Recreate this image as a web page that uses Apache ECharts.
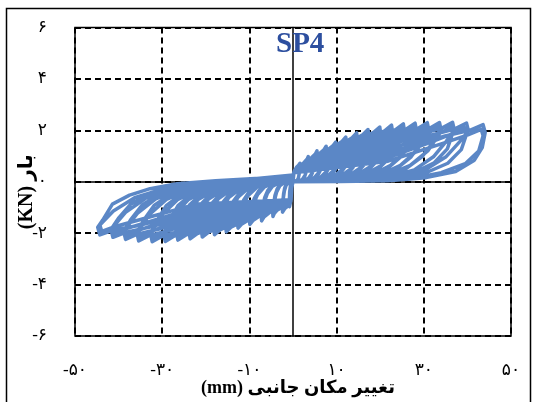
<!DOCTYPE html>
<html>
<head>
<meta charset="utf-8">
<script src="https://cdn.jsdelivr.net/npm/echarts@6/dist/echarts.min.js"></script>
<style>
  html, body { margin: 0; padding: 0; background: #fff; }
  #chart { width: 534px; height: 402px; }
</style>
</head>
<body>
<div id="chart"></div>
<script>
// Cyclic load–displacement record of specimen SP4, [displacement mm, load kN].
// One array per amplitude step: first cycle (push, pull) then its repeat cycle.
const step01 = [[0.25,0.4],[0.8,0.56],[1.28,0.64],[1.49,0.67],[1.6,0.72],[1.65,0.58],[1.54,0.49],[1.41,0.3],[1.22,0.14],[0.93,0.05],[0.56,0.02],[0,0],
  [-0.3,-0.25],[-0.45,-0.7],[-0.8,-0.97],[-0.82,-0.7],[-0.77,-0.4],[-0.5,-0.05],[-0.15,0.15],[0,0.26]];
const step02 = [[0.25,0.4],[1.75,0.6],[2.8,0.8],[3.26,0.89],[3.5,0.98],[3.59,0.78],[3.36,0.67],[3.08,0.41],[2.66,0.2],[2.03,0.07],[1.23,0.02],[0,0],
  [-0.3,-0.25],[-0.5,-0.75],[-1.2,-0.95],[-1.92,-1.05],[-2.23,-1.1],[-2.4,-1.18],[-2.33,-0.78],[-2.16,-0.47],[-1.92,-0.26],[-1.58,-0.09],[-1.08,0.02],[-0.48,0.12],[0,0.26],
  [0.25,0.35],[1.75,0.45],[2.73,0.65],[3.22,0.8],[3.47,0.9],[3.5,0.68],[3.22,0.51],[2.8,0.27],[2.24,0.11],[1.58,0.03],[0,0],
  [-0.3,-0.25],[-0.5,-0.7],[-1.2,-0.85],[-1.87,-0.95],[-2.21,-1.0],[-2.38,-1.1],[-2.4,-0.85],[-2.23,-0.65],[-1.97,-0.35],[-1.58,-0.14],[-1.1,-0.04],[-0.48,0.12],[0,0.26]];
const step03 = [[0.25,0.4],[2.75,0.68],[4.4,0.96],[5.12,1.08],[5.5,1.2],[5.6,0.9],[5.28,0.82],[4.84,0.5],[4.18,0.24],[3.19,0.08],[1.93,0.02],[0,0],
  [-0.3,-0.25],[-0.5,-0.75],[-2.3,-0.98],[-3.68,-1.11],[-4.28,-1.23],[-4.6,-1.35],[-4.7,-1.05],[-4.46,-0.89],[-4.14,-0.54],[-3.68,-0.3],[-3.04,-0.11],[-2.07,0.02],[-0.92,0.12],[0,0.26],
  [0.25,0.35],[2.75,0.5],[4.29,0.79],[5.06,0.98],[5.45,1.1],[5.5,0.85],[5.06,0.62],[4.4,0.34],[3.52,0.13],[2.48,0.04],[0,0],
  [-0.3,-0.25],[-0.5,-0.7],[-2.3,-0.85],[-3.59,-0.95],[-4.23,-1.13],[-4.55,-1.26],[-4.6,-1.01],[-4.28,-0.74],[-3.77,-0.41],[-3.04,-0.16],[-2.12,-0.04],[-0.92,0.12],[0,0.26]];
const step04 = [[0.25,0.4],[3.8,0.72],[6.08,1.1],[7.07,1.24],[7.6,1.38],[7.73,1.08],[7.3,0.94],[6.69,0.58],[5.78,0.28],[4.41,0.1],[2.66,0.02],[0,0],
  [-0.3,-0.25],[-0.5,-0.75],[-3.6,-0.95],[-5.76,-1.25],[-6.7,-1.38],[-7.2,-1.52],[-7.32,-1.22],[-6.98,-1.0],[-6.48,-0.61],[-5.76,-0.33],[-4.75,-0.12],[-3.24,0.02],[-1.44,0.12],[0,0.26],
  [0.25,0.35],[3.8,0.5],[5.93,0.91],[6.99,1.13],[7.52,1.27],[7.6,1.02],[6.99,0.72],[6.08,0.39],[4.86,0.15],[3.42,0.04],[0,0],
  [-0.3,-0.25],[-0.5,-0.7],[-3.6,-0.8],[-5.62,-1.06],[-6.62,-1.28],[-7.13,-1.41],[-7.2,-1.16],[-6.7,-0.84],[-5.9,-0.46],[-4.75,-0.18],[-3.31,-0.05],[-1.44,0.12],[0,0.26]];
const step05 = [[0.25,0.4],[4.9,0.77],[7.84,1.23],[9.11,1.39],[9.8,1.54],[9.95,1.24],[9.41,1.05],[8.62,0.65],[7.45,0.31],[5.68,0.11],[3.43,0.02],[0,0],
  [-0.3,-0.25],[-0.5,-0.75],[-4.95,-0.98],[-7.92,-1.36],[-9.21,-1.51],[-9.9,-1.66],[-10.05,-1.36],[-9.6,-1.1],[-8.91,-0.66],[-7.92,-0.37],[-6.53,-0.13],[-4.46,0.02],[-1.98,0.12],[0,0.26],
  [0.25,0.35],[4.9,0.55],[7.64,1.02],[9.02,1.26],[9.7,1.42],[9.8,1.17],[9.02,0.8],[7.84,0.43],[6.27,0.17],[4.41,0.05],[0,0],
  [-0.3,-0.25],[-0.5,-0.7],[-4.95,-0.8],[-7.72,-1.16],[-9.11,-1.39],[-9.8,-1.54],[-9.9,-1.29],[-9.21,-0.91],[-8.12,-0.5],[-6.53,-0.2],[-4.55,-0.05],[-1.98,0.12],[0,0.26]];
const step06 = [[0.25,0.4],[6.05,0.87],[9.68,1.39],[11.25,1.57],[12.1,1.74],[12.27,1.44],[11.62,1.18],[10.65,0.73],[9.2,0.35],[7.02,0.12],[4.24,0.02],[0,0],
  [-0.3,-0.25],[-0.5,-0.75],[-6.3,-0.99],[-10.08,-1.48],[-11.72,-1.64],[-12.6,-1.8],[-12.78,-1.5],[-12.22,-1.19],[-11.34,-0.72],[-10.08,-0.4],[-8.32,-0.14],[-5.67,0.02],[-2.52,0.12],[0,0.26],
  [0.25,0.35],[6.05,0.63],[9.44,1.15],[11.13,1.43],[11.98,1.6],[12.1,1.35],[11.13,0.9],[9.68,0.49],[7.74,0.19],[5.45,0.05],[0,0],
  [-0.3,-0.25],[-0.5,-0.7],[-6.3,-0.76],[-9.83,-1.26],[-11.59,-1.51],[-12.47,-1.67],[-12.6,-1.42],[-11.72,-0.99],[-10.33,-0.54],[-8.32,-0.22],[-5.8,-0.05],[-2.52,0.12],[0,0.26]];
const step07 = [[0.25,0.4],[7.3,0.95],[11.68,1.52],[13.58,1.71],[14.6,1.9],[14.8,1.6],[14.02,1.29],[12.85,0.8],[11.1,0.38],[8.47,0.13],[5.11,0.02],[0,0],
  [-0.3,-0.25],[-0.5,-0.75],[-7.65,-1.07],[-12.24,-1.6],[-14.23,-1.77],[-15.3,-1.95],[-15.5,-1.65],[-14.84,-1.29],[-13.77,-0.78],[-12.24,-0.43],[-10.1,-0.16],[-6.89,0.02],[-3.06,0.12],[0,0.26],
  [0.25,0.35],[7.3,0.68],[11.39,1.25],[13.43,1.56],[14.45,1.75],[14.6,1.5],[13.43,0.99],[11.68,0.53],[9.34,0.21],[6.57,0.06],[0,0],
  [-0.3,-0.25],[-0.5,-0.7],[-7.65,-0.82],[-11.93,-1.37],[-14.08,-1.64],[-15.15,-1.81],[-15.3,-1.56],[-14.23,-1.07],[-12.55,-0.59],[-10.1,-0.23],[-7.04,-0.06],[-3.06,0.12],[0,0.26]];
const step08 = [[0.25,0.4],[8.6,1.02],[13.76,1.62],[16,1.83],[17.2,2.03],[17.42,1.73],[16.51,1.38],[15.14,0.85],[13.07,0.41],[9.98,0.14],[6.02,0.02],[0,0],
  [-0.3,-0.25],[-0.5,-0.75],[-9,-1.13],[-14.4,-1.69],[-16.74,-1.87],[-18,-2.06],[-18.23,-1.76],[-17.46,-1.36],[-16.2,-0.82],[-14.4,-0.45],[-11.88,-0.16],[-8.1,0.02],[-3.6,0.12],[0,0.26],
  [0.25,0.35],[8.6,0.73],[13.42,1.34],[15.82,1.66],[17.03,1.87],[17.2,1.62],[15.82,1.06],[13.76,0.57],[11.01,0.22],[7.74,0.06],[0,0],
  [-0.3,-0.25],[-0.5,-0.7],[-9,-0.87],[-14.04,-1.44],[-16.56,-1.73],[-17.82,-1.92],[-18,-1.67],[-16.74,-1.13],[-14.76,-0.62],[-11.88,-0.25],[-8.28,-0.06],[-3.6,0.12],[0,0.26]];
const step09 = [[0.25,0.4],[9.95,1.07],[15.92,1.7],[18.51,1.92],[19.9,2.13],[20.15,1.83],[19.1,1.45],[17.51,0.89],[15.12,0.43],[11.54,0.15],[6.97,0.02],[0,0],
  [-0.3,-0.25],[-0.5,-0.75],[-10.4,-1.18],[-16.64,-1.76],[-19.34,-1.96],[-20.8,-2.15],[-21.06,-1.85],[-20.18,-1.42],[-18.72,-0.86],[-16.64,-0.47],[-13.73,-0.17],[-9.36,0.02],[-4.16,0.12],[0,0.26],
  [0.25,0.35],[9.95,0.77],[15.52,1.41],[18.31,1.75],[19.7,1.96],[19.9,1.71],[18.31,1.11],[15.92,0.6],[12.74,0.23],[8.96,0.06],[0,0],
  [-0.3,-0.25],[-0.5,-0.7],[-10.4,-0.9],[-16.22,-1.51],[-19.14,-1.81],[-20.59,-2.0],[-20.8,-1.75],[-19.34,-1.18],[-17.06,-0.65],[-13.73,-0.26],[-9.57,-0.06],[-4.16,0.12],[0,0.26]];
const step10 = [[0.25,0.4],[11.3,1.1],[18.08,1.76],[21.02,1.98],[22.6,2.2],[22.88,1.9],[21.7,1.5],[19.89,0.92],[17.18,0.44],[13.11,0.15],[7.91,0.02],[0,0],
  [-0.3,-0.25],[-0.5,-0.75],[-11.8,-1.22],[-18.88,-1.82],[-21.95,-2.02],[-23.6,-2.22],[-23.89,-1.92],[-22.89,-1.47],[-21.24,-0.89],[-18.88,-0.49],[-15.58,-0.18],[-10.62,0.02],[-4.72,0.12],[0,0.26],
  [0.25,0.35],[11.3,0.79],[17.63,1.45],[20.79,1.8],[22.37,2.02],[22.6,1.77],[20.79,1.14],[18.08,0.62],[14.46,0.24],[10.17,0.07],[0,0],
  [-0.3,-0.25],[-0.5,-0.7],[-11.8,-0.93],[-18.41,-1.55],[-21.71,-1.86],[-23.36,-2.06],[-23.6,-1.81],[-21.95,-1.22],[-19.35,-0.67],[-15.58,-0.27],[-10.86,-0.07],[-4.72,0.12],[0,0.26]];
const step11 = [[0.25,0.4],[12.65,1.13],[20.24,1.8],[23.53,2.03],[25.3,2.25],[25.6,1.95],[24.29,1.53],[22.26,0.95],[19.23,0.45],[14.67,0.16],[8.86,0.02],[0,0],
  [-0.3,-0.25],[-0.5,-0.75],[-13.2,-1.25],[-21.12,-1.86],[-24.55,-2.07],[-26.4,-2.27],[-26.71,-1.97],[-25.61,-1.5],[-23.76,-0.91],[-21.12,-0.5],[-17.42,-0.18],[-11.88,0.02],[-5.28,0.12],[0,0.26],
  [0.25,0.35],[12.65,0.81],[19.73,1.49],[23.28,1.85],[25.05,2.07],[25.3,1.82],[23.28,1.17],[20.24,0.63],[16.19,0.25],[11.39,0.07],[0,0],
  [-0.3,-0.25],[-0.5,-0.7],[-13.2,-0.95],[-20.59,-1.59],[-24.29,-1.91],[-26.14,-2.11],[-26.4,-1.86],[-24.55,-1.25],[-21.65,-0.68],[-17.42,-0.27],[-12.14,-0.07],[-5.28,0.12],[0,0.26]];
const step12 = [[0.25,0.4],[14,1.14],[22.4,1.82],[26.04,2.05],[28,2.28],[28.33,1.98],[26.88,1.55],[24.64,0.96],[21.28,0.46],[16.24,0.16],[9.8,0.02],[0,0],
  [-0.3,-0.25],[-0.5,-0.75],[-14.65,-1.28],[-23.44,-1.9],[-27.25,-2.11],[-29.3,-2.32],[-29.64,-2.02],[-28.42,-1.53],[-26.37,-0.93],[-23.44,-0.51],[-19.34,-0.19],[-13.19,0.02],[-5.86,0.12],[0,0.26],
  [0.25,0.35],[14,0.82],[21.84,1.5],[25.76,1.87],[27.72,2.1],[28,1.85],[25.76,1.19],[22.4,0.64],[17.92,0.25],[12.6,0.07],[0,0],
  [-0.3,-0.25],[-0.5,-0.7],[-14.65,-0.97],[-22.85,-1.62],[-26.96,-1.95],[-29.01,-2.16],[-29.3,-1.91],[-27.25,-1.28],[-24.03,-0.7],[-19.34,-0.28],[-13.48,-0.07],[-5.86,0.12],[0,0.26]];
const step13 = [[0.25,0.4],[15.4,1.15],[24.64,1.84],[28.64,2.07],[30.8,2.3],[31.16,2.0],[29.57,1.56],[27.1,0.97],[23.41,0.46],[17.86,0.16],[10.78,0.02],[0,0],
  [-0.3,-0.25],[-0.5,-0.75],[-16.15,-1.28],[-25.84,-1.91],[-30.04,-2.12],[-32.3,-2.33],[-32.67,-2.03],[-31.33,-1.54],[-29.07,-0.93],[-25.84,-0.51],[-21.32,-0.19],[-14.54,0.02],[-6.46,0.12],[0,0.26],
  [0.25,0.35],[15.4,0.83],[24.02,1.52],[28.34,1.89],[30.49,2.12],[30.8,1.87],[28.34,1.2],[24.64,0.64],[19.71,0.25],[13.86,0.07],[0,0],
  [-0.3,-0.25],[-0.5,-0.7],[-16.15,-0.98],[-25.19,-1.63],[-29.72,-1.96],[-31.98,-2.17],[-32.3,-1.92],[-30.04,-1.28],[-26.49,-0.7],[-21.32,-0.28],[-14.86,-0.07],[-6.46,0.12],[0,0.26]];
const step14 = [[0.25,0.4],[16.8,1.15],[26.88,1.84],[31.25,2.07],[33.6,2.3],[33.99,2.0],[32.26,1.56],[29.57,0.97],[25.54,0.46],[19.49,0.16],[11.76,0.02],[0,0],
  [-0.3,-0.25],[-0.5,-0.75],[-17.7,-1.27],[-28.32,-1.89],[-32.92,-2.09],[-35.4,-2.3],[-35.8,-2.0],[-34.34,-1.52],[-31.86,-0.92],[-28.32,-0.51],[-23.36,-0.18],[-15.93,0.02],[-7.08,0.12],[0,0.26],
  [0.25,0.35],[16.8,0.83],[26.21,1.52],[30.91,1.89],[33.26,2.12],[33.6,1.87],[30.91,1.2],[26.88,0.64],[21.5,0.25],[15.12,0.07],[0,0],
  [-0.3,-0.25],[-0.5,-0.7],[-17.7,-0.97],[-27.61,-1.61],[-32.57,-1.93],[-35.05,-2.14],[-35.4,-1.89],[-32.92,-1.27],[-29.03,-0.69],[-23.36,-0.28],[-16.28,-0.07],[-7.08,0.12],[0,0.26]];
const step15 = [[0.25,0.4],[18.3,1.16],[29.28,1.85],[34.04,2.08],[36.6,2.31],[37.02,2.01],[35.14,1.57],[32.21,0.97],[27.82,0.46],[21.23,0.16],[12.81,0.02],[0,0],
  [-0.3,-0.25],[-0.5,-0.75],[-19.2,-1.23],[-30.72,-1.84],[-35.71,-2.04],[-38.4,-2.24],[-38.83,-1.94],[-37.25,-1.48],[-34.56,-0.9],[-30.72,-0.49],[-25.34,-0.18],[-17.28,0.02],[-7.68,0.12],[0,0.26],
  [0.25,0.35],[18.3,0.83],[28.55,1.52],[33.67,1.89],[36.23,2.13],[36.6,1.88],[35.4,1.28],[32.4,0.74],[27.8,0.36],[21.9,0.14],[15.5,0.05],[0,0],
  [-0.3,-0.25],[-0.5,-0.7],[-19.2,-0.94],[-29.95,-1.57],[-35.33,-1.88],[-38.02,-2.08],[-38.4,-1.83],[-35.71,-1.23],[-31.49,-0.67],[-25.34,-0.27],[-17.66,-0.07],[-7.68,0.12],[0,0.26]];
const step16 = [[0.25,0.4],[19.9,1.14],[31.84,1.82],[37.01,2.05],[39.8,2.28],[40.25,1.98],[38.21,1.55],[35.02,0.96],[30.25,0.46],[23.08,0.16],[13.93,0.02],[0,0],
  [-0.3,-0.25],[-0.5,-0.75],[-20.65,-1.19],[-33.04,-1.77],[-38.41,-1.97],[-41.3,-2.16],[-41.76,-1.86],[-40.06,-1.43],[-37.17,-0.86],[-33.04,-0.48],[-27.26,-0.17],[-18.59,0.02],[-8.26,0.12],[0,0.26],
  [0.25,0.35],[19.9,0.82],[31.04,1.5],[36.62,1.87],[39.4,2.1],[39.8,1.85],[38.6,1.25],[35.5,0.72],[30.5,0.35],[24,0.14],[17,0.05],[0,0],
  [-0.3,-0.25],[-0.5,-0.7],[-20.65,-0.91],[-32.21,-1.51],[-38,-1.81],[-40.89,-2.01],[-41.3,-1.76],[-38.41,-1.19],[-33.87,-0.65],[-27.26,-0.26],[-19,-0.06],[-8.26,0.12],[0,0.26]];
const step17 = [[0.25,0.4],[21.8,1.11],[34.88,1.78],[40.55,2.0],[43.6,2.22],[44.09,1.92],[43.4,1.33],[41.6,0.84],[37.3,0.4],[30.5,0.16],[21.8,0.04],[10.9,0.01],[0,0],
  [-0.3,-0.25],[-0.5,-0.75],[-22.15,-1.14],[-35.44,-1.7],[-41.2,-1.88],[-44.3,-2.07],[-44.79,-1.77],[-43.64,-1.49],[-41.42,-0.87],[-37.48,-0.52],[-32.78,-0.27],[-26.58,-0.08],[-17.72,0.04],[-6.65,0.15],[0,0.26],
  [0.25,0.35],[21.8,0.8],[34.01,1.47],[40.11,1.82],[43.16,2.04],[43.6,1.79],[42.6,1.2],[39.5,0.7],[34,0.35],[27.9,0.15],[19.6,0.05],[0,0],
  [-0.3,-0.25],[-0.5,-0.7],[-22.15,-0.87],[-34.55,-1.45],[-40.76,-1.74],[-43.86,-1.93],[-44.3,-1.68],[-41.2,-1.14],[-36.33,-0.62],[-29.24,-0.25],[-20.38,-0.06],[-8.86,0.12],[0,0.26]];

// Axis ticks and their Persian labels
const xTickValues = [-50, -30, -10, 10, 30, 50];
const xTickLabels = ['-۵۰', '-۳۰', '-۱۰', '۱۰', '۳۰', '۵۰'];
const yTickValues = [-6, -4, -2, 0, 2, 4, 6];
const yTickLabels = ['-۶', '-۴', '-۲', '۰', '۲', '۴', '۶'];

const xTitle = '(mm) تغییر مکان جانبی';
const yTitle = '(KN) بار';
const chartTitle = 'SP4';

const history = [[0, 0]].concat(
  step01, step02, step03, step04, step05, step06, step07, step08, step09,
  step10, step11, step12, step13, step14, step15, step16, step17
);

const gridDash = { color: '#000', width: 2, type: [6, 4] };
const labelFont = { color: '#000', fontSize: 17, fontFamily: 'Liberation Serif, DejaVu Sans, serif' };
const nameFont = { color: '#000', fontWeight: 'bold', fontFamily: 'Liberation Serif, DejaVu Sans, serif' };

const chart = echarts.init(document.getElementById('chart'), null, { renderer: 'canvas' });
chart.setOption({
  animation: false,
  backgroundColor: '#fff',
  title: {
    text: chartTitle,
    left: 276, top: 30, padding: 0,
    textStyle: { color: '#2d4f9f', fontFamily: 'Liberation Serif, serif', fontWeight: 'bold', fontSize: 29 }
  },
  graphic: [{
    type: 'rect',
    shape: { x: 6.5, y: 8.5, width: 524, height: 420 },
    style: { fill: 'none', stroke: '#000', lineWidth: 1.5 },
    silent: true, z: -1
  }],
  grid: {
    left: 75, right: 23, top: 27.5, bottom: 66,
    outerBoundsMode: 'none', containLabel: false,
    show: true, borderColor: '#000', borderWidth: 1.5, backgroundColor: 'transparent'
  },
  xAxis: [{
    type: 'value', min: -50, max: 50, interval: 20, position: 'bottom',
    axisLine: { show: false, onZero: false },
    axisTick: { show: false },
    splitLine: { show: true, lineStyle: gridDash },
    axisLabel: Object.assign({
      margin: 26,
      formatter: v => xTickLabels[xTickValues.indexOf(Math.round(v))]
    }, labelFont),
    name: xTitle, nameLocation: 'middle', nameGap: 43, nameMoveOverlap: false,
    nameTextStyle: Object.assign({ fontSize: 18, padding: [0, 0, 0, 10] }, nameFont)
  }, {
    // zero reference line (horizontal, through load = 0)
    type: 'value', min: -50, max: 50, show: true,
    axisLine: { show: true, onZero: true, onZeroAxisIndex: 0, lineStyle: { color: '#000', width: 1.5 } },
    axisTick: { show: false }, axisLabel: { show: false }, splitLine: { show: false }
  }],
  yAxis: [{
    type: 'value', min: -6, max: 6, interval: 2, position: 'left',
    axisLine: { show: false, onZero: false },
    axisTick: { show: false },
    splitLine: { show: true, lineStyle: gridDash },
    axisLabel: Object.assign({
      margin: 28,
      formatter: v => yTickLabels[yTickValues.indexOf(Math.round(v))]
    }, labelFont),
    name: yTitle, nameLocation: 'middle', nameGap: 38, nameRotate: 90, nameMoveOverlap: false,
    nameTextStyle: Object.assign({ fontSize: 20, padding: [0, 20, 0, 0] }, nameFont)
  }, {
    // zero reference line (vertical, through displacement = 0)
    type: 'value', min: -6, max: 6, show: true,
    axisLine: { show: true, onZero: true, onZeroAxisIndex: 0, lineStyle: { color: '#000', width: 1.5 } },
    axisTick: { show: false }, axisLabel: { show: false }, splitLine: { show: false }
  }],
  series: [{
    type: 'line',
    xAxisIndex: 0, yAxisIndex: 0,
    data: history,
    showSymbol: false,
    smooth: false,
    lineStyle: { color: '#5b87c6', width: 3.5, join: 'round', cap: 'round' },
    z: 5
  }]
});
</script>
</body>
</html>
